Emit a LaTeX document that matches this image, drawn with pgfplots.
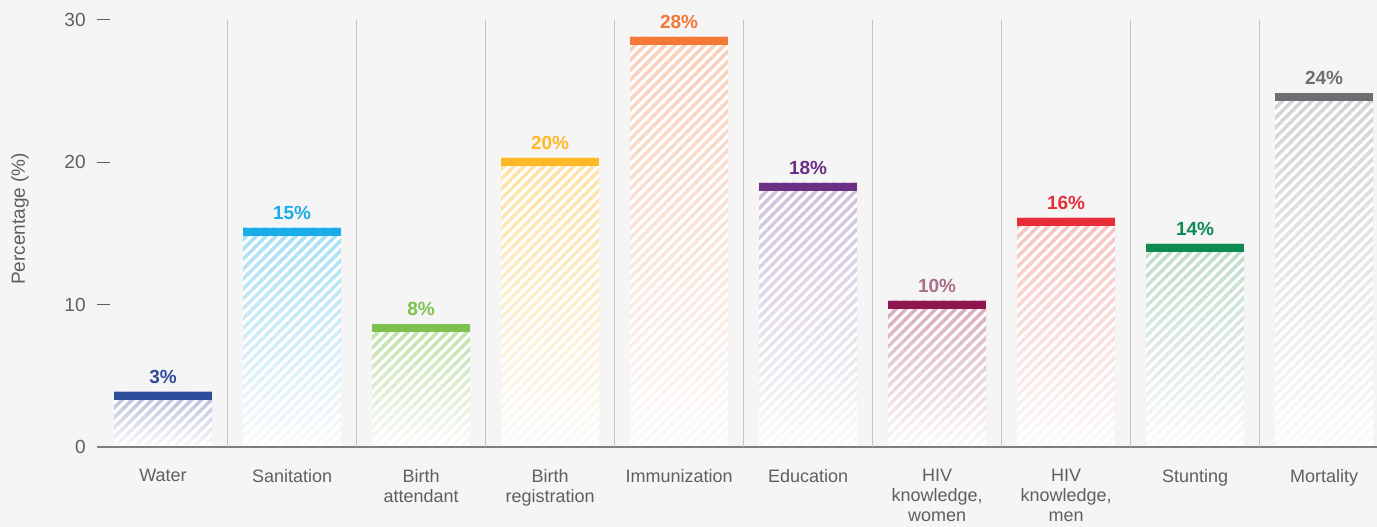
\documentclass[border=0pt]{standalone}
\usepackage{fontspec}
\setmainfont{Liberation Sans}
\usepackage{pgfplots}
\pgfplotsset{compat=1.18}
\usetikzlibrary{patterns.meta,backgrounds}

\definecolor{bg}{HTML}{F5F5F5}
\definecolor{txt}{HTML}{5E5F61}
\definecolor{axisgray}{HTML}{7F7F7F}
\definecolor{sepgray}{HTML}{C4C4C4}
% cap colours
\definecolor{cWater}{HTML}{2E4D9B}
\definecolor{cSan}{HTML}{1AADE8}
\definecolor{cBA}{HTML}{7DC24E}
\definecolor{cBR}{HTML}{FDB928}
\definecolor{cImm}{HTML}{F47836}
\definecolor{cEdu}{HTML}{6B2F84}
\definecolor{cHW}{HTML}{8E1650}
\definecolor{cHWl}{HTML}{A8708A}
\definecolor{cHM}{HTML}{E72D37}
\definecolor{cStu}{HTML}{0C8A4F}
\definecolor{cMor}{HTML}{6D6E71}
% tint colours (top of faded hatched bars)
\definecolor{tWater}{HTML}{B5BADA}
\definecolor{tSan}{HTML}{A6DFF4}
\definecolor{tBA}{HTML}{BFE0A6}
\definecolor{tBR}{HTML}{FDE2A4}
\definecolor{tImm}{HTML}{F8CFBA}
\definecolor{tEdu}{HTML}{CEC0DA}
\definecolor{tHW}{HTML}{D6A9BC}
\definecolor{tHM}{HTML}{F6C2BF}
\definecolor{tStu}{HTML}{BFDBCA}
\definecolor{tMor}{HTML}{D3D3D4}

\pgfdeclareplotmark{cap}{%
  \pgfpathrectangle{\pgfpoint{-\pgfplotmarksize}{-4pt}}{\pgfpoint{2\pgfplotmarksize}{4pt}}%
  \pgfusepathqfill}

\pgfplotsset{
  shadebar/.style={ybar, bar width=49pt, bar shift=0pt, draw=none,
    top color=#1, middle color=#1!70!white, bottom color=white!60!bg},
  hatchbar/.style={ybar, bar width=49pt, bar shift=0pt, draw=none, fill=none,
    pattern={Lines[angle=45,distance=3.5pt,line width=1.6pt]}, pattern color=white},
  capmark/.style={only marks, mark=cap, mark size=24.5pt, color=#1,
    nodes near coords, point meta=explicit symbolic,
    nodes near coords style={font=\fontsize{9.5}{10}\selectfont\bfseries, text=#1,
      anchor=south, inner sep=0pt, yshift=4pt}},
}

\begin{document}
\begin{tikzpicture}[show background rectangle,
  background rectangle/.style={fill=bg, draw=none}, inner frame sep=0pt]
\begin{axis}[
  scale only axis, width=640pt, height=213.5pt,
  xmin=-0.512, xmax=9.41, ymin=0, ymax=30,
  clip=false, axis on top,
  axis x line=bottom, axis y line=left,
  x axis line style={draw=axisgray, line width=0.8pt, -},
  y axis line style={draw=none},
  xtick={0,...,9},
  xticklabels={Water, Sanitation, {Birth\\attendant}, {Birth\\registration},
    Immunization, Education, {HIV\\knowledge,\\women}, {HIV\\knowledge,\\men},
    Stunting, Mortality},
  xtick style={draw=none},
  xticklabel style={align=center, font=\fontsize{9}{10}\selectfont, text=txt,
    inner sep=0pt, anchor=north, yshift=-11pt},
  extra x ticks={0.5,1.5,2.5,3.5,4.5,5.5,6.5,7.5,8.5},
  extra x tick labels={},
  extra x tick style={grid=major, major grid style={draw=sepgray, line width=0.7pt},
    major tick length=0pt},
  ytick={0,10,20,30},
  ytick style={draw=txt, line width=0.5pt},
  tick align=inside, major tick length=6.5pt,
  yticklabel style={font=\fontsize{9.5}{10}\selectfont, text=txt, inner sep=0pt,
    anchor=east, xshift=-5.5pt, /pgf/number format/assume math mode=true},
  ylabel={Percentage (\%)},
  every axis y label/.style={at={(axis description cs:0,0.534)}, xshift=-38.5pt,
    rotate=90, anchor=center, font=\fontsize{9.5}{10}\selectfont, text=txt},
]
% faded bars
\addplot[shadebar=tWater] coordinates {(0,3.87)};
\addplot[shadebar=tSan]   coordinates {(1,15.41)};
\addplot[shadebar=tBA]    coordinates {(2,8.64)};
\addplot[shadebar=tBR]    coordinates {(3,20.33)};
\addplot[shadebar=tImm]   coordinates {(4,28.83)};
\addplot[shadebar=tEdu]   coordinates {(5,18.57)};
\addplot[shadebar=tHW]    coordinates {(6,10.28)};
\addplot[shadebar=tHM]    coordinates {(7,16.09)};
\addplot[shadebar=tStu]   coordinates {(8,14.27)};
\addplot[shadebar=tMor]   coordinates {(9,24.86)};
% white diagonal hatching over the same bars
\addplot[hatchbar] coordinates {(0,3.87) (1,15.41) (2,8.64) (3,20.33) (4,28.83)
  (5,18.57) (6,10.28) (7,16.09) (8,14.27) (9,24.86)};
% solid caps with value labels
\addplot[capmark=cWater] coordinates {(0,3.87) [3\%]};
\addplot[capmark=cSan]   coordinates {(1,15.41) [15\%]};
\addplot[capmark=cBA]    coordinates {(2,8.64) [8\%]};
\addplot[capmark=cBR]    coordinates {(3,20.33) [20\%]};
\addplot[capmark=cImm]   coordinates {(4,28.83) [28\%]};
\addplot[capmark=cEdu]   coordinates {(5,18.57) [18\%]};
\addplot[capmark=cHW, nodes near coords style={text=cHWl}] coordinates {(6,10.28) [10\%]};
\addplot[capmark=cHM]    coordinates {(7,16.09) [16\%]};
\addplot[capmark=cStu]   coordinates {(8,14.27) [14\%]};
\addplot[capmark=cMor]   coordinates {(9,24.86) [24\%]};
\end{axis}
\pgfresetboundingbox
\path ([shift={(-48.5pt,-40pt)}]current axis.south west) rectangle ([shift={(0pt,10pt)}]current axis.north east);
\end{tikzpicture}
\end{document}
